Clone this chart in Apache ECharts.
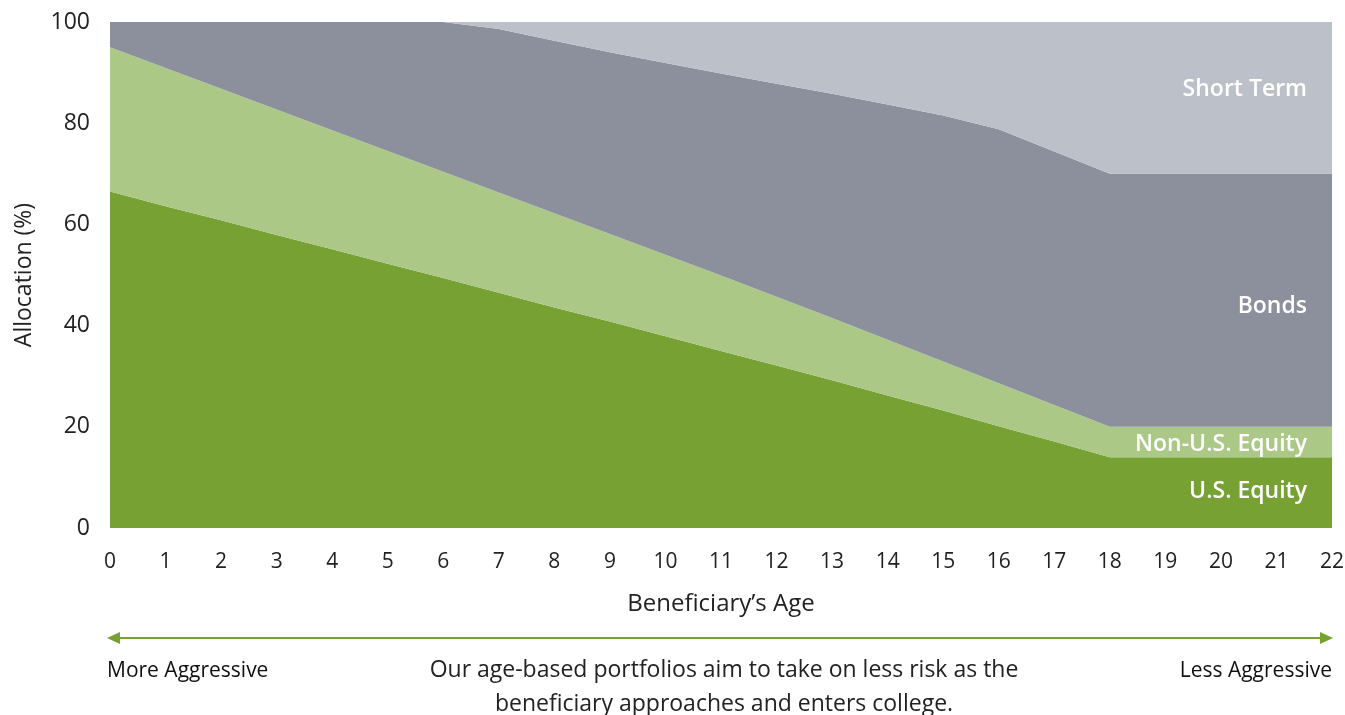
<!DOCTYPE html>
<html>
<head>
<meta charset="utf-8">
<script src="https://cdn.jsdelivr.net/npm/echarts@6/dist/echarts.min.js"></script>
<style>
html,body{margin:0;padding:0;background:#fff;}
#chart{width:1345px;height:715px;}
</style>
</head>
<body>
<div id="chart"></div>
<script>
const ages = ['0','1','2','3','4','5','6','7','8','9','10','11','12','13','14','15','16','17','18','19','20','21','22'];
const usEquity    = [66.5,63.6,60.8,57.9,55.1,52.2,49.4,46.5,43.6,40.8,37.9,35.0,32.1,29.2,26.2,23.2,20.1,17.1,14,14,14,14,14];
const nonUsEquity = [28.5,27.3,26.0,24.8,23.5,22.3,21.0,19.8,18.6,17.3,16.1,14.9,13.6,12.3,11.0,9.7,8.5,7.2,6,6,6,6,6];
const bonds       = [5,9.1,13.2,17.3,21.4,25.5,29.6,32.3,34.1,35.9,37.9,39.9,42.1,44.3,46.5,48.6,50.2,50.1,50,50,50,50,50];
const shortTerm   = [0,0,0,0,0,0,0,1.4,3.7,6.0,8.1,10.2,12.2,14.2,16.3,18.5,21.2,25.6,30,30,30,30,30];
const yTicks = [0,20,40,60,80,100];
const seriesNames = ['U.S. Equity','Non-U.S. Equity','Bonds','Short Term'];

const FONT = '"Open Sans"';
const chart = echarts.init(document.getElementById('chart'));
const colors = ['#77a233','#abc886','#8b909c','#bcc0c8'];
const datas = [usEquity, nonUsEquity, bonds, shortTerm];

function mk(i){
  return {
    name: seriesNames[i], type:'line', stack:'total', data: datas[i],
    symbol:'none', silent:true, z:2,
    lineStyle:{width:0},
    areaStyle:{color:colors[i], opacity:1},
    itemStyle:{color:colors[i]}
  };
}

function lbl(y, text){
  return {type:'text', z:100, style:{x:1307, y:y, text:text, fill:'#ffffff', font:'600 23px ' + FONT, align:'right', verticalAlign:'middle'}};
}

chart.setOption({
  animation:false,
  grid:{left:110, right:13, top:22, bottom:187, containLabel:false, outerBoundsMode:'none'},
  xAxis:{
    type:'category', data:ages, boundaryGap:false,
    name:'Beneficiary’s Age', nameLocation:'middle', nameGap:64,
    nameTextStyle:{fontFamily:FONT, fontSize:24, color:'#222'},
    axisLine:{show:false}, axisTick:{show:false},
    axisLabel:{fontFamily:FONT, fontSize:21, color:'#222', margin:24, interval:0},
    splitLine:{show:false}
  },
  yAxis:{
    type:'value', min:0, max:100, interval:20,
    name:'Allocation (%)', nameLocation:'middle', nameGap:74, nameRotate:90,
    nameTextStyle:{fontFamily:FONT, fontSize:23, color:'#222'},
    axisLine:{show:false}, axisTick:{show:false},
    axisLabel:{fontFamily:FONT, fontSize:23, color:'#222', margin:20,
      formatter:function(v){return yTicks.indexOf(v)>=0 ? String(v) : '';}},
    splitLine:{show:false}
  },
  series:[mk(0),mk(1),mk(2),mk(3)],
  graphic:[
    lbl(89,'Short Term'),
    lbl(306,'Bonds'),
    lbl(444,'Non-U.S. Equity'),
    lbl(491,'U.S. Equity'),
    {type:'line', z:100, shape:{x1:114, y1:638, x2:1326, y2:638}, style:{stroke:'#77a233', lineWidth:2}},
    {type:'polygon', z:100, shape:{points:[[107,638],[120,632],[120,644]]}, style:{fill:'#77a233'}},
    {type:'polygon', z:100, shape:{points:[[1333,638],[1320,632],[1320,644]]}, style:{fill:'#77a233'}},
    {type:'text', z:100, style:{x:107, y:671, text:'More Aggressive', fill:'#111', font:'21px ' + FONT, align:'left', verticalAlign:'middle'}},
    {type:'text', z:100, style:{x:1332, y:671, text:'Less Aggressive', fill:'#111', font:'21px ' + FONT, align:'right', verticalAlign:'middle'}},
    {type:'text', z:100, style:{x:724, y:670, text:'Our age-based portfolios aim to take on less risk as the', fill:'#222', font:'23px ' + FONT, align:'center', verticalAlign:'middle'}},
    {type:'text', z:100, style:{x:724, y:704, text:'beneficiary approaches and enters college.', fill:'#222', font:'23px ' + FONT, align:'center', verticalAlign:'middle'}}
  ]
});
</script>
</body>
</html>
